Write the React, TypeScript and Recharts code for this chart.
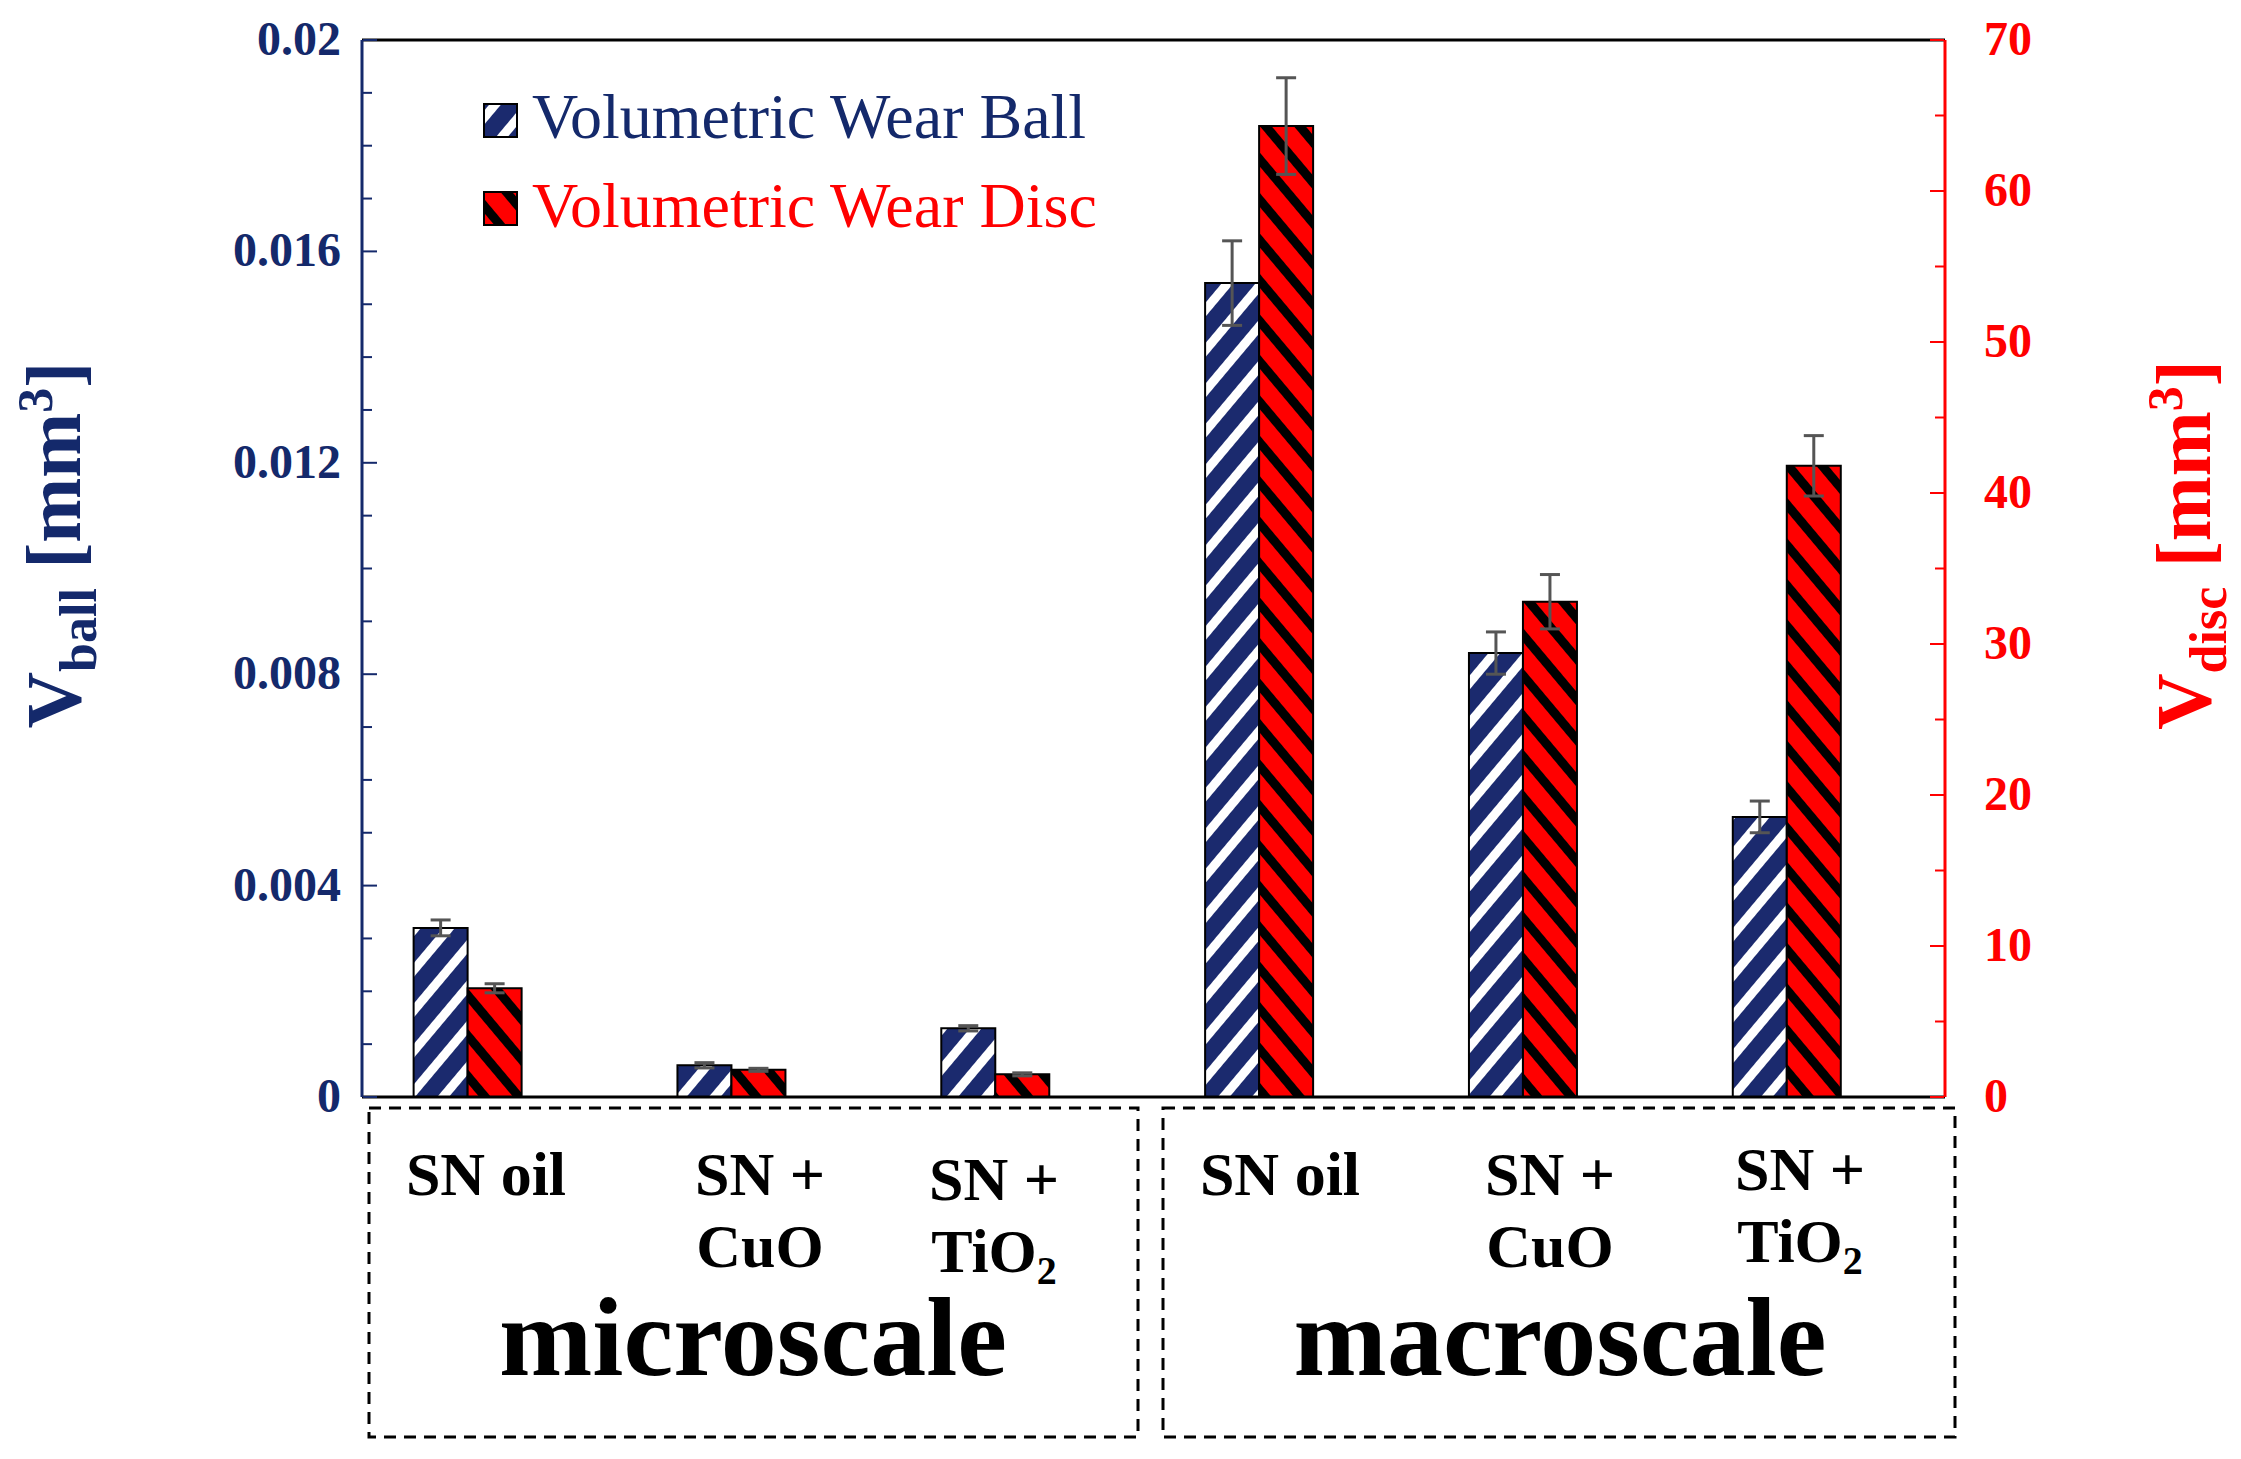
import React from "react";
import { ComposedChart, Bar, XAxis, YAxis, ErrorBar, ReferenceLine } from "recharts";

const categories = ["SN oil", "SN + CuO", "SN + TiO2", "SN oil", "SN + CuO", "SN + TiO2"];
const ballValues = [0.0032, 0.0006, 0.0013, 0.0154, 0.0084, 0.0053];
const ballErrors = [0.00015, 0.00005, 0.00005, 0.0008, 0.0004, 0.0003];
const discValues = [7.2, 1.8, 1.5, 64.3, 32.8, 41.8];
const discErrors = [0.3, 0.1, 0.1, 3.2, 1.8, 2.0];
const leftTicks = Array.from({ length: 21 }, (_, i) => +(i * 0.001).toFixed(3));
const rightTicks = Array.from({ length: 15 }, (_, i) => i * 5);

const data = categories.map((c, i) => ({
  x: i, name: c, ball: ballValues[i], ballErr: ballErrors[i], disc: discValues[i], discErr: discErrors[i],
}));

const NAVY = "#14296b";
const RED = "#ff0000";
const FONT = "'Liberation Serif', 'Times New Roman', serif";

const LeftTick = (p: any) => {
  const v = p.payload.value;
  const major = Math.round(v * 1000) % 4 === 0;
  const x = p.x + 1;
  return (
    <g>
      <line x1={x} x2={x + (major ? 14 : 9)} y1={p.y} y2={p.y} stroke={NAVY} strokeWidth={2} />
      {major && (
        <text x={x - 22} y={p.y + 15} textAnchor="end" fill={NAVY} fontSize={48} fontWeight="bold" fontFamily={FONT}>
          {v === 0 ? "0" : v === 0.02 ? "0.02" : v.toFixed(3)}
        </text>
      )}
    </g>
  );
};

const RightTick = (p: any) => {
  const v = p.payload.value;
  const major = v % 10 === 0;
  const x = p.x - 1;
  return (
    <g>
      <line x1={x} x2={x - (major ? 14 : 9)} y1={p.y} y2={p.y} stroke={RED} strokeWidth={2} />
      {major && (
        <text x={x + 40} y={p.y + 15} textAnchor="start" fill={RED} fontSize={48} fontWeight="bold" fontFamily={FONT}>
          {v}
        </text>
      )}
    </g>
  );
};

const Overlay = () => {
  const lab = { fontFamily: FONT, fontWeight: "bold" as const, fontSize: 62, fill: "#000" };
  const sub = { fontSize: 40 };
  const microCx = [486, 760, 994];
  const macroCx = [1280, 1550, 1800];
  const two = (cx: number, second: string, isTi: boolean, y1: number) => (
    <g key={cx}>
      <text x={cx} y={y1} textAnchor="middle" {...lab}>SN +</text>
      <text x={cx} y={y1 + 72} textAnchor="middle" {...lab}>
        {isTi ? <>TiO<tspan {...sub} dy={12}>2</tspan></> : second}
      </text>
    </g>
  );
  return (
    <svg width={2241} height={1459} style={{ position: "absolute", left: 0, top: 0, pointerEvents: "none" }}>
      <rect x={369} y={1108} width={769} height={329} fill="none" stroke="#000" strokeWidth={3} strokeDasharray="12 8" />
      <rect x={1163} y={1108} width={792} height={329} fill="none" stroke="#000" strokeWidth={3} strokeDasharray="12 8" />
      <text x={microCx[0]} y={1195} textAnchor="middle" {...lab}>SN oil</text>
      {two(microCx[1], "CuO", false, 1195)}
      {two(microCx[2], "", true, 1200)}
      <text x={macroCx[0]} y={1195} textAnchor="middle" {...lab}>SN oil</text>
      {two(macroCx[1], "CuO", false, 1195)}
      {two(macroCx[2], "", true, 1190)}
      <text x={753} y={1375} textAnchor="middle" fontFamily={FONT} fontWeight="bold" fontSize={112}>microscale</text>
      <text x={1560} y={1375} textAnchor="middle" fontFamily={FONT} fontWeight="bold" fontSize={112}>macroscale</text>
      <rect x={484} y={104} width={33} height={33} fill="url(#ballPat)" stroke="#000" strokeWidth={2} />
      <text x={532} y={138} fontFamily={FONT} fontSize={64} fill={NAVY}>Volumetric Wear Ball</text>
      <rect x={484} y={192} width={33} height={33} fill="url(#discPat)" stroke="#000" strokeWidth={2} />
      <text x={532} y={227} fontFamily={FONT} fontSize={64} fill={RED}>Volumetric Wear Disc</text>
      <text transform="translate(80,545) rotate(-90)" textAnchor="middle" fontFamily={FONT} fontWeight="bold" fontSize={78} fill={NAVY}>
        V<tspan fontSize={52} dy={16}>ball</tspan><tspan dy={-16}> [mm</tspan><tspan fontSize={50} dy={-28}>3</tspan><tspan dy={28}>]</tspan>
      </text>
      <text transform="translate(2210,545) rotate(-90)" textAnchor="middle" fontFamily={FONT} fontWeight="bold" fontSize={78} fill={RED}>
        V<tspan fontSize={52} dy={16}>disc</tspan><tspan dy={-16}> [mm</tspan><tspan fontSize={50} dy={-28}>3</tspan><tspan dy={28}>]</tspan>
      </text>
    </svg>
  );
};

export default function App() {
  return (
    <div style={{ position: "absolute", left: 0, top: 0, width: 2241, height: 1459, background: "#fff" }}>
      <ComposedChart width={2241} height={1459} data={data} barGap={0}
        margin={{ top: 40, right: 295, bottom: 361, left: 361 }}>
        <defs>
          <pattern id="ballPat" patternUnits="userSpaceOnUse" width={26} height={26} patternTransform="rotate(40)">
            <rect width={26} height={26} fill="#1b2a6e" />
            <rect width={9} height={26} fill="#ffffff" />
          </pattern>
          <pattern id="discPat" patternUnits="userSpaceOnUse" width={26} height={26} patternTransform="rotate(-40)">
            <rect width={26} height={26} fill="#ff0000" />
            <rect width={9} height={26} fill="#000000" />
          </pattern>
        </defs>
        <XAxis dataKey="x" type="number" domain={[-0.4, 5.6]} ticks={[]} tick={false} tickLine={false}
          axisLine={{ stroke: "#000", strokeWidth: 3 }} height={1} />
        <YAxis yAxisId="l" domain={[0, 0.02]} ticks={leftTicks} interval={0} tick={<LeftTick />} tickLine={false}
          tickSize={0} tickMargin={0} width={1} axisLine={{ stroke: NAVY, strokeWidth: 3 }} />
        <YAxis yAxisId="r" orientation="right" domain={[0, 70]} ticks={rightTicks} interval={0} tick={<RightTick />}
          tickLine={false} tickSize={0} tickMargin={0} width={1} axisLine={{ stroke: RED, strokeWidth: 3 }} />
        <ReferenceLine yAxisId="l" y={0.02} stroke="#000" strokeWidth={3} />
        <Bar yAxisId="l" dataKey="ball" barSize={54} fill="url(#ballPat)" stroke="#000" strokeWidth={2} isAnimationActive={false}>
          <ErrorBar dataKey="ballErr" width={10} stroke="#555" strokeWidth={3} direction="y" />
        </Bar>
        <Bar yAxisId="r" dataKey="disc" barSize={54} fill="url(#discPat)" stroke="#000" strokeWidth={2} isAnimationActive={false}>
          <ErrorBar dataKey="discErr" width={10} stroke="#555" strokeWidth={3} direction="y" />
        </Bar>
      </ComposedChart>
      <Overlay />
    </div>
  );
}
